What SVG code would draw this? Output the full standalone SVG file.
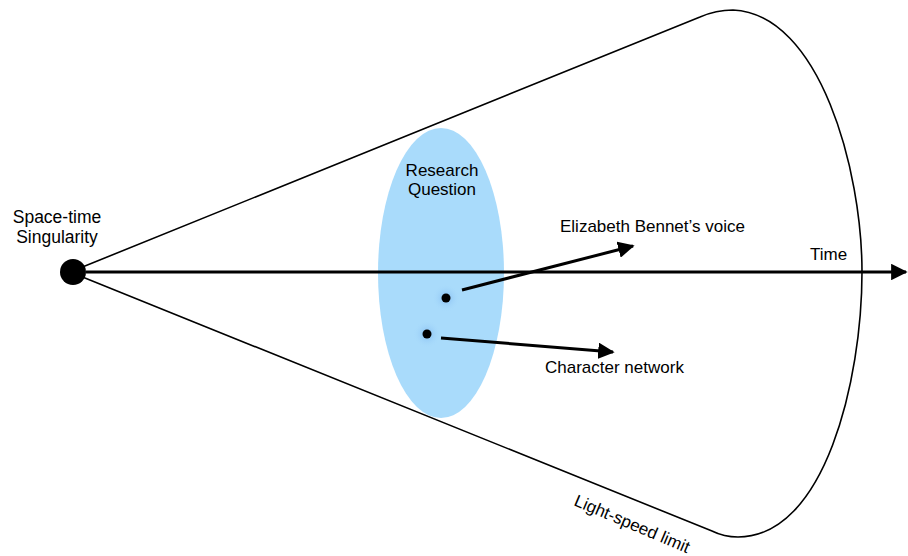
<svg xmlns="http://www.w3.org/2000/svg" width="908" height="556" viewBox="0 0 908 556">
<style>
text{font-family:"Liberation Sans",Arial,sans-serif;font-size:17px;fill:#000}
.ln{fill:none;stroke:#000}
</style>
<defs>
<marker id="ah" viewBox="0 0 10 10" refX="9" refY="5" markerWidth="5.5" markerHeight="5.5" orient="auto" markerUnits="strokeWidth">
<path d="M0,0 L10,5 L0,10 z" fill="#000"/>
</marker>
<radialGradient id="glow">
<stop offset="0" stop-color="#7fb8f0" stop-opacity="0.9"/>
<stop offset="1" stop-color="#a9dbfb" stop-opacity="0"/>
</radialGradient>
</defs>
<g id="cone">
<path class="ln" stroke-width="1.6" d="M80 268 L700 17 Q716 10 733 10 C820 14 862 170 862 272 C862 380 825 537 738 537 Q724 537 712 531 L80 276"/>
<text x="573" y="505" transform="rotate(23 573 505)">Light-speed limit</text>
</g>
<g id="research-question">
<ellipse cx="441" cy="273" rx="63" ry="145" fill="#a9dbfb"/>
<text x="442" y="176" text-anchor="middle">Research</text>
<text x="442" y="195" text-anchor="middle">Question</text>
</g>
<g id="singularity">
<circle cx="73" cy="272" r="13" fill="#000"/>
<text x="57" y="223" text-anchor="middle" style="font-size:17.5px">Space-time</text>
<text x="57" y="243" text-anchor="middle" style="font-size:17.5px">Singularity</text>
</g>
<g id="dot1">
<circle cx="446" cy="298" r="14" fill="url(#glow)"/>
<circle cx="446" cy="298" r="4.5" fill="#000"/>
</g>
<g id="dot2">
<circle cx="427" cy="334" r="14" fill="url(#glow)"/>
<circle cx="427" cy="334" r="4.5" fill="#000"/>
</g>
<g id="connectors">
<line class="ln" stroke-width="3" x1="86" y1="272" x2="906" y2="272" marker-end="url(#ah)"/>
<line class="ln" stroke-width="3" x1="462" y1="290" x2="633" y2="246" marker-end="url(#ah)"/>
<line class="ln" stroke-width="3" x1="441" y1="338" x2="613" y2="352" marker-end="url(#ah)"/>
</g>
<g id="labels">
<text x="560" y="232">Elizabeth Bennet’s voice</text>
<text x="810" y="260">Time</text>
<text x="545" y="373">Character network</text>
</g>
</svg>
